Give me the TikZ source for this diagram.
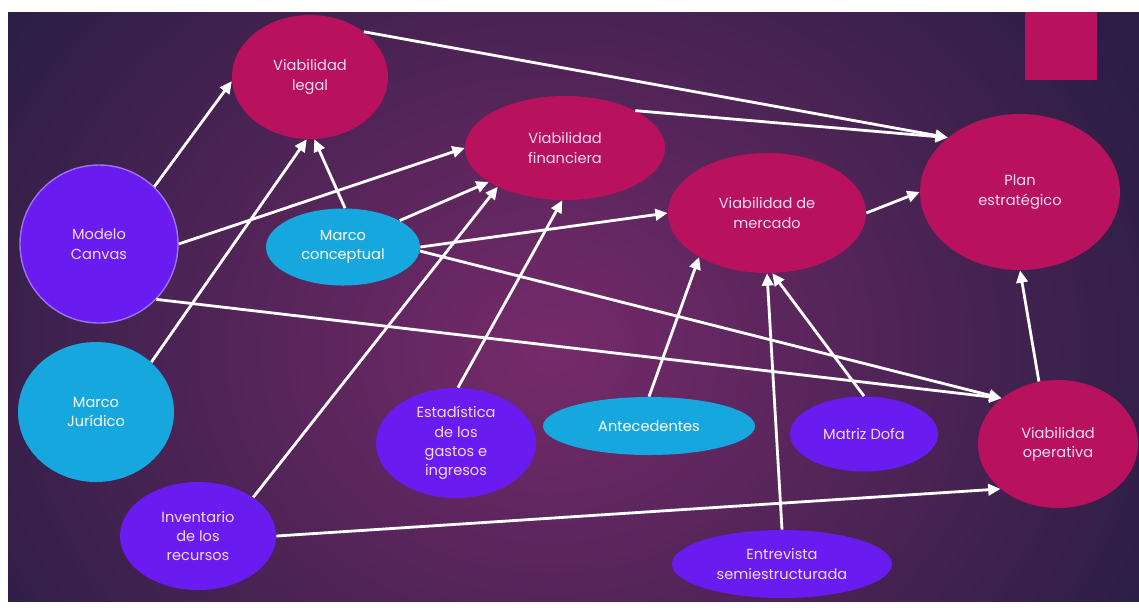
\documentclass[tikz,border=0pt]{standalone}
\usepackage{fontspec}
\setmainfont{Poppins}
\usetikzlibrary{shapes.geometric, arrows.meta}
\definecolor{bgdark}{HTML}{2A1E44}
\definecolor{bgmid}{HTML}{762A6A}
\definecolor{viab}{HTML}{B8125F}
\definecolor{marco}{HTML}{17A7DF}
\definecolor{fuente}{HTML}{6A1BF0}
\definecolor{rand}{HTML}{9C72F2}
\definecolor{letra}{HTML}{F4DCF0}
\pgfdeclareradialshading{gloed}{\pgfpoint{0bp}{0bp}}{color(0bp)=(bgmid); color(26bp)=(bgdark); color(50bp)=(bgdark)}
\tikzstyle{doel}=[ellipse,
                  fill=viab,
                  text=letra,
                  inner sep=0pt,
                  align=center,
                  font=\fontsize{8.3pt}{11pt}\selectfont
                 ]
\tikzstyle{kader}=[doel, fill=marco, text=white]
\tikzstyle{bron}=[doel, fill=fuente]
\tikzstyle{link}=[draw=white, line width=1.6pt, -{Triangle[length=7pt,width=6.5pt]}]

\begin{document}
\begin{tikzpicture}
  \useasboundingbox (0cm, 0cm) rectangle (22.78cm, -12.14cm);
  \begin{scope}
    \clip (0.16cm, -0.24cm) rectangle (22.78cm, -12.02cm);
    \shade[shading=gloed] (-2.0cm, 4.0cm) rectangle (24.0cm, -18.0cm);
  \end{scope}
  \fill[viab] (20.5cm, -0.24cm) rectangle (21.94cm, -1.6cm);

  % doelen
  \node at (6.2cm, -1.54cm) (vlegal) [doel, minimum width=3.12cm, minimum height=2.48cm] {Viabilidad\\legal};
  \node at (11.3cm, -2.96cm) (vfin) [doel, minimum width=4.0cm, minimum height=2.08cm] {Viabilidad\\financiera};
  \node at (15.34cm, -4.26cm) (vmer) [doel, minimum width=3.96cm, minimum height=2.4cm] {Viabilidad de\\mercado};
  \node at (20.4cm, -3.84cm) (plan) [doel, minimum width=4.0cm, minimum height=3.12cm] {Plan\\estratégico};
  \node at (21.16cm, -8.88cm) (vop) [doel, minimum width=3.2cm, minimum height=2.56cm] {Viabilidad\\operativa};

  % kaders en bronnen
  \node at (1.98cm, -4.88cm) (canvas) [bron, draw=rand, line width=0.8pt, minimum width=3.16cm, minimum height=3.16cm] {Modelo\\Canvas};
  \node at (6.86cm, -4.94cm) (mconc) [kader, minimum width=3.08cm, minimum height=1.54cm] {Marco\\conceptual};
  \node at (1.92cm, -8.24cm) (mjur) [kader, minimum width=3.12cm, minimum height=2.8cm] {Marco\\Jurídico};
  \node at (3.96cm, -10.72cm) (inv) [bron, minimum width=3.12cm, minimum height=2.16cm] {Inventario\\de los\\recursos};
  \node at (9.12cm, -8.86cm) (est) [bron, minimum width=3.2cm, minimum height=2.2cm] {Estadística\\de los\\gastos e\\ingresos};
  \node at (12.98cm, -8.52cm) (ante) [kader, minimum width=4.24cm, minimum height=1.16cm] {Antecedentes};
  \node at (17.28cm, -8.68cm) (dofa) [bron, minimum width=2.96cm, minimum height=1.5cm] {Matriz Dofa};
  \node at (15.64cm, -11.28cm) (entr) [bron, minimum width=4.4cm, minimum height=1.36cm] {Entrevista\\semiestructurada};

  % pijlen
  \draw[link] (canvas.46) -- (vlegal.183);
  \draw[link] (canvas.0) -- (vfin.180);
  \draw[link] (canvas.-44) -- (vop.141);
  \draw[link] (mconc.87) -- (vlegal.-86);
  \draw[link] (mconc.25) -- (vfin.204);
  \draw[link] (mconc.0) -- (vmer.180);
  \draw[link] (mconc.-3) -- (vop.141);
  \draw[link] (mjur.42) -- (vlegal.-93);
  \draw[link] (inv.35) -- (vfin.210);
  \draw[link] (inv.0) -- (vop.218);
  \draw[link] (est.88) -- (vfin.267);
  \draw[link] (ante.90) -- (vmer.213);
  \draw[link] (entr.90) -- (vmer.270);
  \draw[link] (dofa.90) -- (vmer.-85);
  \draw[link] (vmer.0) -- (plan.180);
  \draw[link] (vlegal.40) -- (plan.143);
  \draw[link] (vfin.28) -- (plan.143);
  \draw[link] (vop.107) -- (plan.270);
\end{tikzpicture}
\end{document}
